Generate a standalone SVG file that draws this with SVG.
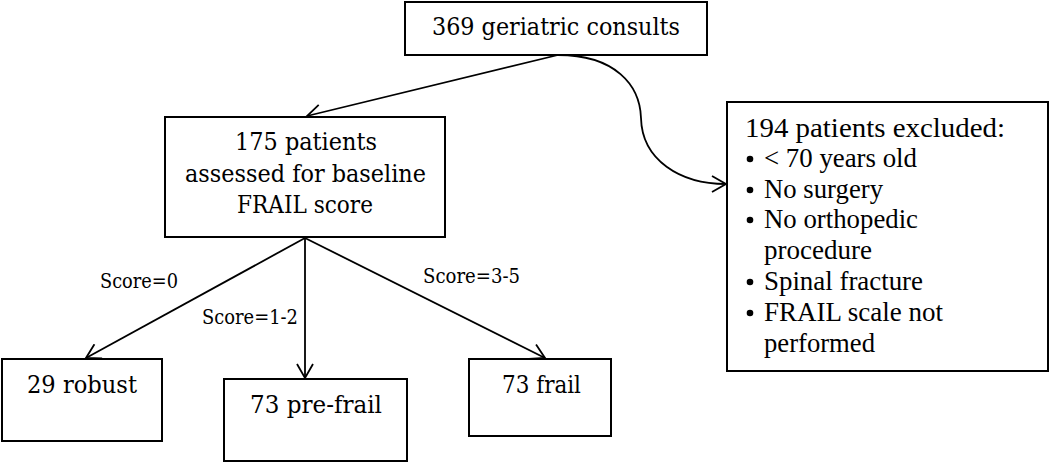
<svg xmlns="http://www.w3.org/2000/svg" width="1050" height="462" viewBox="0 0 1050 462">
<style>
.box{fill:#fff;stroke:#000;stroke-width:2}
.t{font-family:"DejaVu Serif","Liberation Serif",serif;font-size:25px;fill:#000}
.s{font-family:"DejaVu Serif","Liberation Serif",serif;font-size:21px;fill:#000}
.x{font-family:"Liberation Serif","Times New Roman",serif;font-size:27px;fill:#000}
.c{fill:none;stroke:#000;stroke-width:1.8}
</style>
<defs>
<marker id="ah" markerUnits="userSpaceOnUse" markerWidth="18" markerHeight="18" viewBox="0 0 18 18" refX="16" refY="9" orient="auto">
<path d="M2,1 L16,9 L2,17" fill="none" stroke="#000" stroke-width="1.8"/>
</marker>
</defs>
<g id="connectors">
<path class="c" d="M558,55 L307,116" marker-end="url(#ah)"/>
<path class="c" d="M558,55 C615,55 640,85 641,118 C642,160 680,184 726,184" marker-end="url(#ah)"/>
<path class="c" d="M305,238 L86,358" marker-end="url(#ah)"/>
<path class="c" d="M305,238 L305,378" marker-end="url(#ah)"/>
<path class="c" d="M305,238 L545,358" marker-end="url(#ah)"/>
<text class="s" x="100" y="288" textLength="78" lengthAdjust="spacingAndGlyphs">Score=0</text>
<text class="s" x="202" y="324" textLength="96" lengthAdjust="spacingAndGlyphs">Score=1-2</text>
<text class="s" x="423" y="283" textLength="97" lengthAdjust="spacingAndGlyphs">Score=3-5</text>
</g>
<g id="consults">
<rect class="box" x="405" y="2" width="302" height="53"/>
<text class="t" x="432" y="35" textLength="248" lengthAdjust="spacingAndGlyphs">369 geriatric consults</text>
</g>
<g id="assessed">
<rect class="box" x="165" y="117" width="280" height="120"/>
<text class="t" x="235" y="150" textLength="142" lengthAdjust="spacingAndGlyphs">175 patients</text>
<text class="t" x="185" y="182" textLength="241" lengthAdjust="spacingAndGlyphs">assessed for baseline</text>
<text class="t" x="237" y="213" textLength="136" lengthAdjust="spacingAndGlyphs">FRAIL score</text>
</g>
<g id="excluded">
<rect class="box" x="727" y="102" width="321" height="269"/>
<text class="x" x="745" y="137" textLength="260" lengthAdjust="spacingAndGlyphs">194 patients excluded:</text>
<circle cx="750" cy="159" r="3.3"/>
<text class="x" x="764" y="167" textLength="153" lengthAdjust="spacingAndGlyphs">&lt; 70 years old</text>
<circle cx="750" cy="190" r="3.3"/>
<text class="x" x="764" y="198" textLength="119" lengthAdjust="spacingAndGlyphs">No surgery</text>
<circle cx="750" cy="220" r="3.3"/>
<text class="x" x="764" y="228" textLength="154" lengthAdjust="spacingAndGlyphs">No orthopedic</text>
<text class="x" x="764" y="259" textLength="108" lengthAdjust="spacingAndGlyphs">procedure</text>
<circle cx="750" cy="282" r="3.3"/>
<text class="x" x="764" y="290" textLength="159" lengthAdjust="spacingAndGlyphs">Spinal fracture</text>
<circle cx="750" cy="313" r="3.3"/>
<text class="x" x="764" y="321" textLength="179" lengthAdjust="spacingAndGlyphs">FRAIL scale not</text>
<text class="x" x="764" y="352" textLength="111" lengthAdjust="spacingAndGlyphs">performed</text>
</g>
<g id="robust">
<rect class="box" x="2" y="359" width="160" height="82"/>
<text class="t" x="27" y="393" textLength="110" lengthAdjust="spacingAndGlyphs">29 robust</text>
</g>
<g id="prefrail">
<rect class="box" x="224" y="379" width="183" height="82"/>
<text class="t" x="250" y="413" textLength="132" lengthAdjust="spacingAndGlyphs">73 pre-frail</text>
</g>
<g id="frail">
<rect class="box" x="469" y="359" width="142" height="77"/>
<text class="t" x="502" y="393" textLength="79" lengthAdjust="spacingAndGlyphs">73 frail</text>
</g>
</svg>
